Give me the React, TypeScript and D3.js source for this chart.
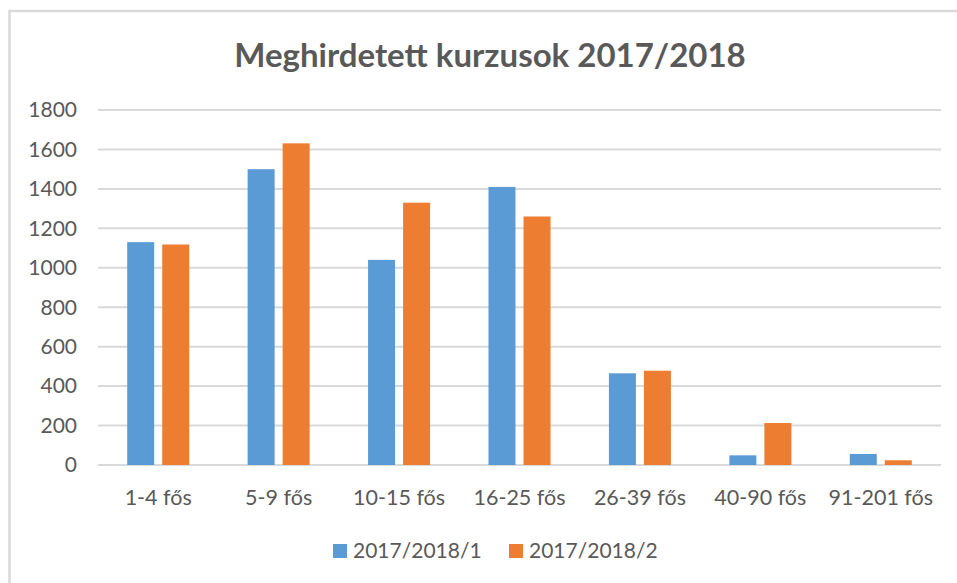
import React, { useEffect, useRef } from 'react';
import * as d3 from 'd3';

const categories = ['1-4 fős', '5-9 fős', '10-15 fős', '16-25 fős', '26-39 fős', '40-90 fős', '91-201 fős'];
const seriesNames = ['2017/2018/1', '2017/2018/2'];
const semester1 = [1130, 1500, 1040, 1410, 465, 49, 56];
const semester2 = [1118, 1631, 1330, 1260, 478, 213, 24];
const yTicks = [0, 200, 400, 600, 800, 1000, 1200, 1400, 1600, 1800];
const colors = ['#5b9bd5', '#ed7d31'];

const W = 957;
const H = 583;

const App: React.FC = () => {
  const svgRef = useRef<SVGSVGElement>(null);

  useEffect(() => {
    document.body.style.margin = '0';
    if (!svgRef.current) return;
    const margin = { top: 110, right: 16, bottom: 118, left: 98 };
    const width = W - margin.left - margin.right;
    const height = H - margin.top - margin.bottom;
    const font = 'Lato, "Open Sans", sans-serif';

    const svg = d3.select(svgRef.current);
    svg.selectAll('*').remove();

    svg.append('rect')
      .attr('x', 0).attr('y', 0).attr('width', W).attr('height', H)
      .attr('fill', '#ffffff');

    // chart frame (only top/left visible in the crop)
    svg.append('rect')
      .attr('x', 9.5).attr('y', 11).attr('width', W + 20).attr('height', H + 20)
      .attr('fill', 'none').attr('stroke', '#d9d9d9').attr('stroke-width', 2.5);

    svg.append('text')
      .attr('x', 490).attr('y', 67)
      .attr('text-anchor', 'middle')
      .attr('font-family', font).attr('font-weight', 700).attr('font-size', 33)
      .attr('fill', '#595959')
      .text('Meghirdetett kurzusok 2017/2018');

    const g = svg.append('g').attr('transform', `translate(${margin.left},${margin.top})`);

    const x0 = d3.scaleBand<string>().domain(categories).range([0, width])
      .paddingInner(0.485).paddingOuter(0.2425);
    const x1 = d3.scaleBand<string>().domain(seriesNames).range([0, x0.bandwidth()])
      .paddingInner(0.229);
    const y = d3.scaleLinear().domain([0, 1800]).range([height, 0]);

    // grid
    g.selectAll('line.grid').data(yTicks).enter().append('line')
      .attr('class', 'grid')
      .attr('x1', 0).attr('x2', width)
      .attr('y1', d => y(d)).attr('y2', d => y(d))
      .attr('stroke', '#d9d9d9').attr('stroke-width', 2);

    g.selectAll('text.ytick').data(yTicks).enter().append('text')
      .attr('class', 'ytick')
      .attr('x', -21).attr('y', d => y(d))
      .attr('dy', '0.35em')
      .attr('text-anchor', 'end')
      .attr('font-family', font).attr('font-size', 21)
      .attr('fill', '#595959')
      .text(d => String(d));

    const values = [semester1, semester2];
    values.forEach((vals, si) => {
      g.selectAll(`rect.s${si}`).data(vals).enter().append('rect')
        .attr('class', `s${si}`)
        .attr('x', (_, i) => (x0(categories[i]) ?? 0) + (x1(seriesNames[si]) ?? 0))
        .attr('y', d => y(d))
        .attr('width', x1.bandwidth())
        .attr('height', d => height - y(d))
        .attr('fill', colors[si]);
    });

    g.selectAll('text.xtick').data(categories).enter().append('text')
      .attr('class', 'xtick')
      .attr('x', d => (x0(d) ?? 0) + x0.bandwidth() / 2)
      .attr('y', height + 32)
      .attr('dy', '0.35em')
      .attr('text-anchor', 'middle')
      .attr('font-family', font).attr('font-size', 21.5)
      .attr('fill', '#595959')
      .text(d => d);

    // legend
    const legendX = [333, 509];
    seriesNames.forEach((name, i) => {
      svg.append('rect')
        .attr('x', legendX[i]).attr('y', 544).attr('width', 14).attr('height', 14)
        .attr('fill', colors[i]);
      svg.append('text')
        .attr('x', legendX[i] + 20).attr('y', 551)
        .attr('dy', '0.35em')
        .attr('font-family', font).attr('font-size', 21)
        .attr('fill', '#595959')
        .text(name);
    });
  }, []);

  return (
    <div style={{ position: 'absolute', left: 0, top: 0 }}>
      <svg ref={svgRef} width={W} height={H}></svg>
    </div>
  );
};

export default App;
